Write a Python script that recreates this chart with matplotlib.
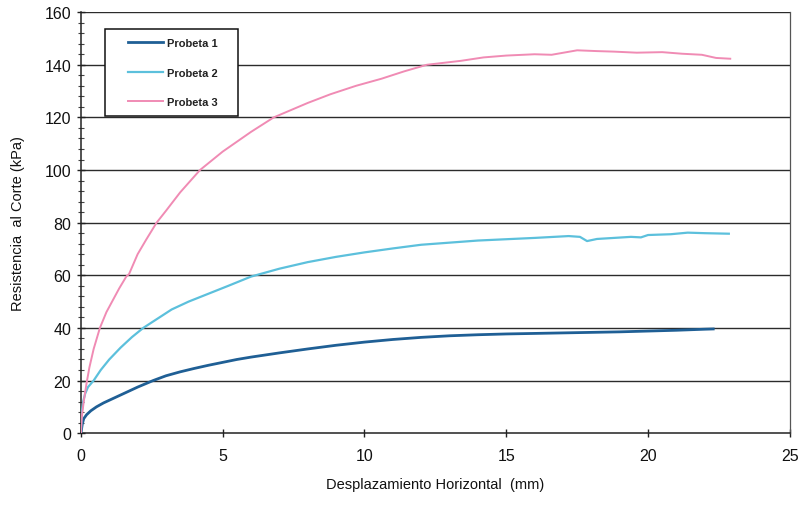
import matplotlib
matplotlib.use("Agg")
import matplotlib.pyplot as plt
from matplotlib.ticker import MultipleLocator
from matplotlib.patches import Rectangle
from matplotlib.legend_handler import HandlerLine2D

plt.rcParams["font.family"] = ["Liberation Sans", "DejaVu Sans"]

# Shear test curves: horizontal displacement (mm) vs shear resistance (kPa)
x_p1 = [0, 0.05, 0.1, 0.2, 0.35, 0.55, 0.8, 1.1, 1.5, 2.0, 2.55, 3.0, 3.5, 4.0,
        4.5, 5.0, 5.5, 6.0, 7.0, 8.0, 9.0, 10.0, 11.0, 12.0, 13.0, 14.0, 15.0,
        16.0, 17.0, 18.0, 19.0, 20.0, 21.0, 22.0, 22.3]
y_p1 = [0, 3.5, 5.5, 7.0, 8.5, 10.0, 11.5, 13.0, 15.0, 17.5, 20.0, 21.8, 23.3,
        24.6, 25.8, 26.9, 28.0, 28.9, 30.5, 32.0, 33.4, 34.6, 35.6, 36.4, 37.0,
        37.4, 37.7, 37.9, 38.1, 38.3, 38.5, 38.8, 39.1, 39.5, 39.6]

x_p2 = [0, 0.03, 0.08, 0.15, 0.25, 0.45, 0.7, 1.0, 1.4, 1.8, 2.2, 2.7, 3.2, 3.8,
        4.5, 5.2, 6.0, 7.0, 8.0, 9.0, 10.0, 11.0, 12.0, 13.0, 14.0, 15.0, 16.0,
        17.2, 17.6, 17.85, 18.2, 18.8, 19.4, 19.75, 20.0, 20.8, 21.4, 22.0, 22.85]
y_p2 = [0, 8, 12, 15, 17.5, 20.0, 24, 28, 32.5, 36.5, 40, 43.5, 47, 50,
        53, 56, 59.5, 62.5, 65, 67, 68.7, 70.2, 71.6, 72.4, 73.2, 73.7, 74.2,
        74.9, 74.6, 73.0, 73.8, 74.2, 74.6, 74.4, 75.3, 75.6, 76.2, 76.0, 75.8]

x_p3 = [0, 0.03, 0.1, 0.2, 0.3, 0.45, 0.67, 0.9, 1.1, 1.35, 1.6, 1.7, 2.0, 2.3,
        2.67, 3.0, 3.5, 4.2, 5.0, 6.0, 6.8, 8.0, 8.8, 9.7, 10.6, 11.4, 12.2,
        13.4, 14.2, 15.0, 16.0, 16.6, 17.5, 18.2, 18.8, 19.6, 20.5, 21.2, 21.9,
        22.4, 22.9]
y_p3 = [0, 6, 12, 19, 25, 32, 40, 46, 50, 55, 59.5, 60.5, 68, 73.5,
        80, 84.5, 91.5, 100, 107, 114.5, 120, 125.5, 128.8, 132, 134.7, 137.5, 140,
        141.5, 142.8, 143.5, 144, 143.8, 145.5, 145.2, 145, 144.6, 144.8, 144.2, 143.8,
        142.6, 142.3]

series_labels = ["Probeta 1", "Probeta 2", "Probeta 3"]
series_colors = ["#1f5f95", "#5cc0dc", "#f08bb4"]

x_ticks = [0, 5, 10, 15, 20, 25]
y_ticks = [0, 20, 40, 60, 80, 100, 120, 140, 160]

fig = plt.figure(figsize=(8.01, 5.06), dpi=100)
ax = fig.add_axes([0.101, 0.142, 0.885, 0.832])

ax.set_xlim(0, 25)
ax.set_ylim(0, 160)
ax.set_xticks(x_ticks)
ax.set_yticks(y_ticks)
ax.yaxis.set_minor_locator(MultipleLocator(4))

for y in y_ticks[1:]:
    ax.axhline(y, color="#2b2b2b", lw=1.0, zorder=1)

handles = []
for xs, ys, lab, col, lw in zip([x_p1, x_p2, x_p3], [y_p1, y_p2, y_p3],
                                series_labels, series_colors, [2.0, 1.6, 1.4]):
    h, = ax.plot(xs, ys, color=col, lw=lw, label=lab, zorder=3)
    handles.append(h)

for side in ["left", "bottom"]:
    ax.spines[side].set_color("#222222")
    ax.spines[side].set_linewidth(1.1)
ax.spines["top"].set_visible(False)
ax.spines["right"].set_color("#555555")
ax.spines["right"].set_linewidth(0.9)

ax.tick_params(axis="both", which="major", direction="inout", length=6,
               width=1.0, color="#222222", labelsize=11.5, labelcolor="#111111")
ax.tick_params(axis="y", which="minor", direction="inout", length=4,
               width=0.8, color="#444444")
ax.tick_params(axis="x", pad=8)
ax.tick_params(axis="y", pad=4)

ax.set_xlabel("Desplazamiento Horizontal  (mm)", fontsize=10.5, labelpad=10,
              color="#111111")
ax.set_ylabel("Resistencia  al Corte (kPa)", fontsize=10.5, labelpad=14,
              color="#111111")

# Legend box with a white background and a plain black border
box = Rectangle((0.034, 0.753), 0.187, 0.207, transform=ax.transAxes,
                facecolor="white", edgecolor="#111111", lw=1.1, zorder=4)
ax.add_patch(box)

leg = ax.legend(handles=handles, loc="upper left",
                bbox_to_anchor=(0.066, 0.938), borderaxespad=0, borderpad=0,
                fontsize=8, handlelength=3.2, labelspacing=1.75,
                handletextpad=0.35, frameon=False,
                handler_map={h: HandlerLine2D() for h in handles})
leg.set_zorder(5)
for t in leg.get_texts():
    t.set_fontweight("bold")
    t.set_color("#222222")

fig.savefig("out.png", dpi=100)
